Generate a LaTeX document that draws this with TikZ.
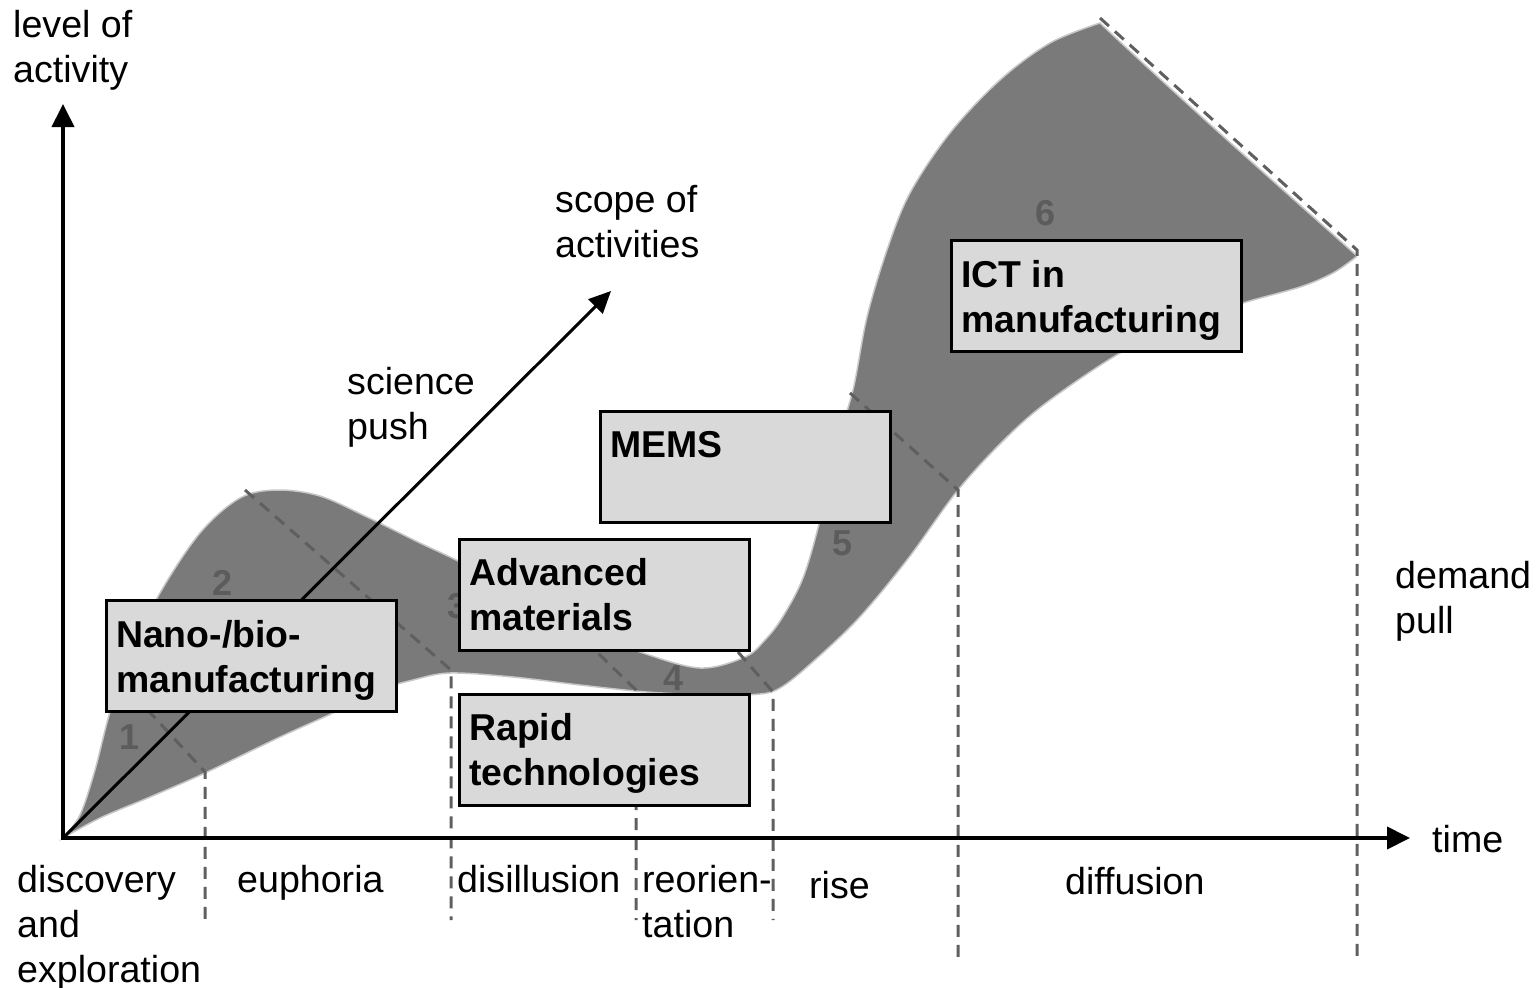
\documentclass[tikz,border=0pt]{standalone}
\usepackage{fontspec}
\setmainfont{Liberation Sans}
\usetikzlibrary{arrows.meta}
\definecolor{bandgray}{RGB}{122,122,122}
\definecolor{numgray}{RGB}{92,92,92}
\definecolor{dashgray}{RGB}{95,95,95}
\definecolor{boxgray}{RGB}{217,217,217}
\begin{document}
\begin{tikzpicture}[x=1pt,y=-1pt,
  lbl/.style={font=\fontsize{37.6}{45}\selectfont, align=left, inner sep=0pt, anchor=north west},
  blbl/.style={font=\fontsize{37.4}{45}\selectfont\bfseries, align=left, inner sep=0pt, anchor=north west},
  numlbl/.style={font=\fontsize{36}{45}\selectfont\bfseries, text=numgray, inner sep=0pt},
  box/.style={draw=black, line width=3pt, fill=boxgray, anchor=north west, inner sep=0pt,
              minimum width=290pt, minimum height=111pt},
  phase/.style={draw=dashgray, line width=3pt, dash pattern=on 12pt off 8pt},
  axis/.style={line width=4pt, {Triangle[length=23pt,width=22pt]}-{Triangle[length=23pt,width=22pt]}},
  scopearrow/.style={line width=3pt, -{Triangle[length=22pt,width=20pt]}},
  band/.style={fill=bandgray, draw=black!22, line width=1.5pt}]
\useasboundingbox (0,0) rectangle (1540,988);

% band
\path[band] plot[smooth, tension=0.55] coordinates {(63,838) (80,815) (95,770) (110,712) (130,655) (160,593) (200,533) (240,498) (277,490) (320,496) (367,517) (420,543) (460,562) (520,595) (580,628) (640,652) (700,668) (745,657) (765,640) (782,618) (803,578) (820,520) (835,450) (853,390) (867,317) (887,250) (910,193) (950,133) (1000,80) (1050,43) (1100,23)}
  .. controls (1190,108) and (1290,196) .. (1356,255)
  -- plot[smooth, tension=0.55] coordinates {(1356,257) (1333,273) (1300,287) (1243,303) (1180,325) (1120,353) (1050,400) (1007,437) (958,490) (907,560) (857,620) (807,667) (780,688) (760,694) (713,695) (647,692) (580,685) (513,677) (450,673) (413,680) (380,690) (333,713) (280,737) (205,773) (150,797) (100,818) (63,838)} -- cycle;

% phase numbers
\node[numlbl] (n1) at (130,737) {1};
\node[numlbl] (n2) at (223,583) {2};
\node[numlbl] (n3) at (458,606) {3};
\node[numlbl] (n4) at (674,678) {4};
\node[numlbl] (n5) at (843,543) {5};
\node[numlbl] (n6) at (1045,213) {6};

% phase boundaries
\coordinate (a1) at (120,680); \coordinate (b1) at (205,772); \coordinate (c1) at (205,920);
\coordinate (a2) at (245,490); \coordinate (b2) at (451,670); \coordinate (c2) at (451,920);
\coordinate (a3) at (570,626); \coordinate (b3) at (636,690); \coordinate (c3) at (636,920);
\coordinate (a4) at (738,652); \coordinate (b4) at (773,692); \coordinate (c4) at (773,920);
\coordinate (a5) at (850,393); \coordinate (b5) at (958,490); \coordinate (c5) at (958,963);
\coordinate (a6) at (1100,18); \coordinate (b6) at (1357,250); \coordinate (c6) at (1357,963);
\draw[phase] (a1) -- (b1) -- (c1);
\draw[phase] (a2) -- (b2) -- (c2);
\draw[phase] (a3) -- (b3) -- (c3);
\draw[phase] (a4) -- (b4) -- (c4);
\draw[phase] (a5) -- (b5) -- (c5);
\draw[phase] (a6) -- (b6) -- (c6);

% axes
\coordinate (O) at (63,838);
\coordinate (Y) at (63,104);
\coordinate (X) at (1410,838);
\coordinate (S) at (611,291);
\draw[axis] (Y) -- (O) -- (X);
\draw[scopearrow] (O) -- (S);

% boxes
\node[box] (nano) at (105,599) {};
\node[box] (adv) at (458,538) {};
\node[box] (rapid) at (458,693) {};
\node[box] (mems) at (599,410) {};
\node[box] (ict) at (950,239) {};
\node[blbl] (tnano) at ([xshift=11pt,yshift=-16.5pt]nano.north west) {\strut Nano-/bio-\\manufacturing};
\node[blbl] (tadv) at ([xshift=11pt,yshift=-16pt]adv.north west) {\strut Advanced\\materials};
\node[blbl] (trapid) at ([xshift=11pt,yshift=-16pt]rapid.north west) {\strut Rapid\\technologies};
\node[blbl] (tmems) at ([xshift=11pt,yshift=-16pt]mems.north west) {\strut MEMS};
\node[blbl] (tict) at ([xshift=11pt,yshift=-16.5pt]ict.north west) {\strut ICT in\\manufacturing};

% labels
\node[lbl] (level) at (13,5.5) {\strut level of\\activity};
\node[lbl] (scope) at (555,180.5) {\strut scope of\\activities};
\node[lbl] (science) at (347,362.5) {\strut science\\push};
\node[lbl] (time) at (1432,821) {\strut time};
\node[lbl] (demand) at (1395,556.5) {\strut demand\\pull};
\node[lbl] (disc) at (17,860.5) {\strut discovery\\and\\exploration};
\node[lbl] (euph) at (237,860.5) {\strut euphoria};
\node[lbl] (disil) at (457,860.5) {\strut disillusion};
\node[lbl] (reor) at (642,860.5) {\strut reorien-\\tation};
\node[lbl] (rise) at (809,866.5) {\strut rise};
\node[lbl] (diff) at (1065,862.5) {\strut diffusion};
\end{tikzpicture}
\end{document}
